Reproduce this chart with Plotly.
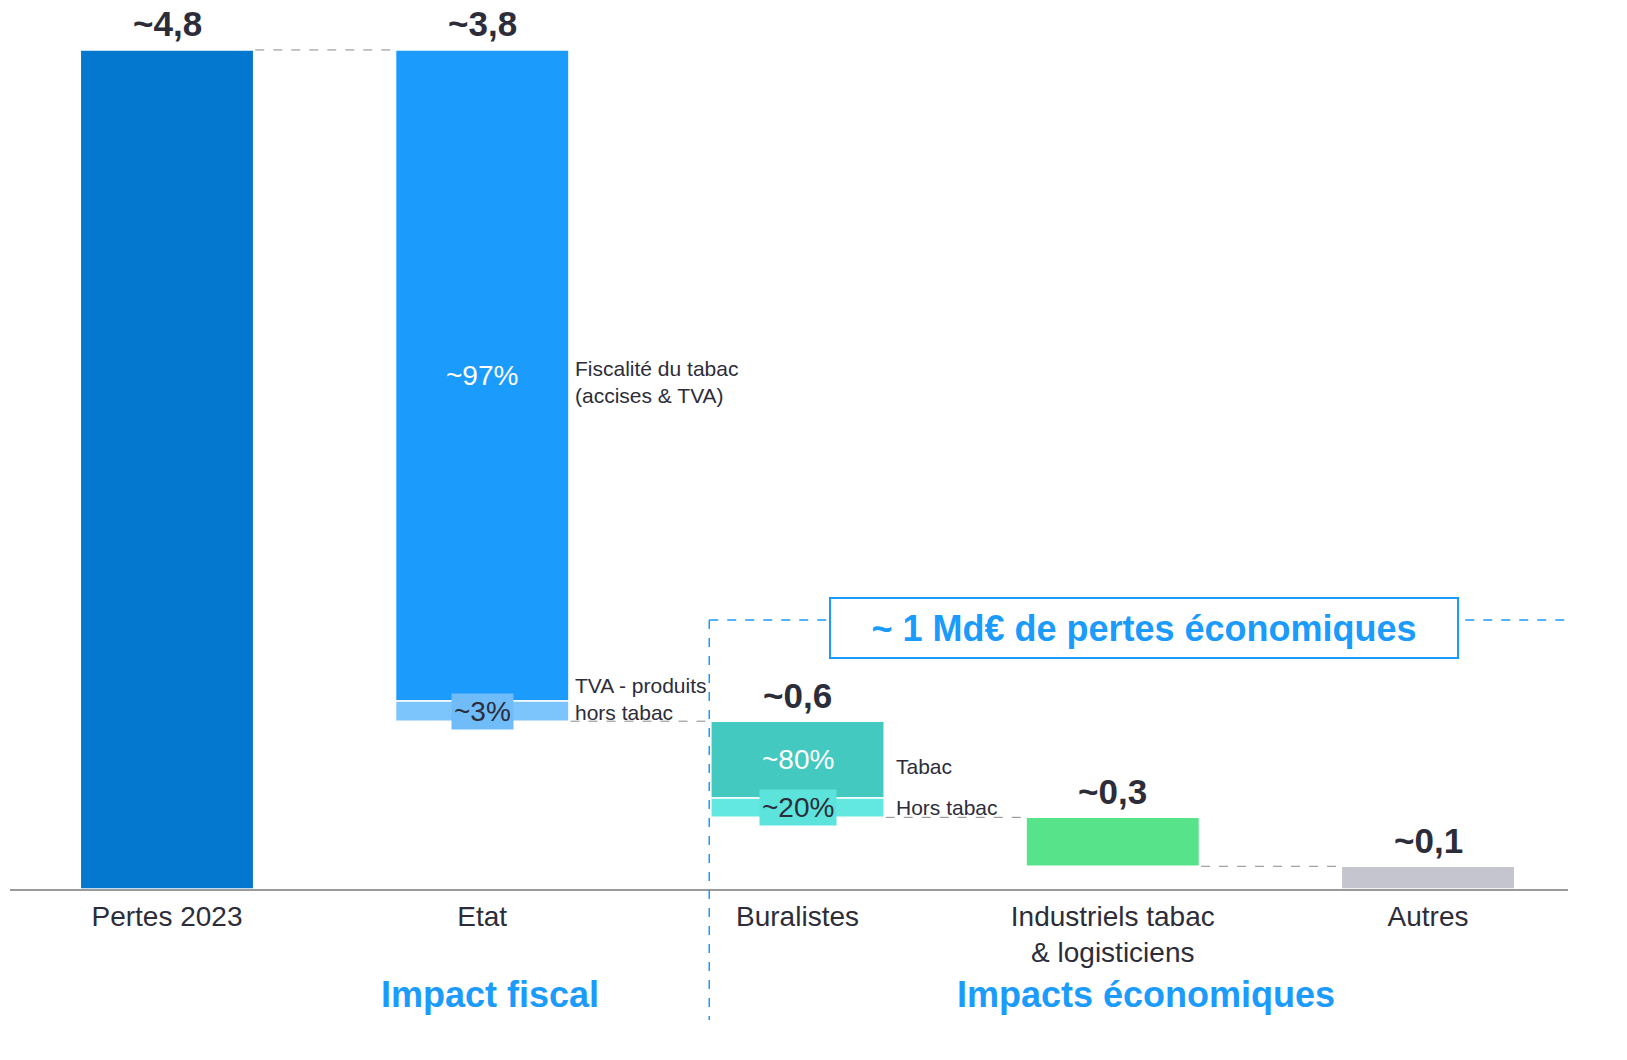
import plotly.graph_objects as go

# ---------------- data ----------------
categories = ["Pertes 2023", "Etat", "Buralistes", "Industriels tabac<br>& logisticiens", "Autres"]
value_labels = ["~4,8", "~3,8", "~0,6", "~0,3", "~0,1"]
bar_values = [4.8, 3.84, 0.55, 0.28, 0.13]
etat_split_pct = [97, 3]
buralistes_split_pct = [80, 20]
etat_split_labels = ["~97%", "~3%"]
buralistes_split_labels = ["~80%", "~20%"]
etat_side_labels = ["Fiscalité du tabac<br>(accises & TVA)", "TVA - produits<br>hors tabac"]
buralistes_side_labels = ["Tabac", "Hors tabac"]
section_labels = ["Impact fiscal", "Impacts économiques"]
callout_text = "~ 1 Md€ de pertes économiques"

# ---------------- styles ----------------
FONT = "Liberation Sans, Arial, sans-serif"
C_TOTAL = "#0477CE"
C_ETAT = "#1B9BFB"
C_ETAT_LIGHT = "#7CC4FC"
C_ETAT_LABEL_BG = "#6FBCF8"
C_BUR = "#43C9C0"
C_BUR_LIGHT = "#62E8E0"
C_BUR_LABEL_BG = "#5CE3DB"
C_IND = "#57E389"
C_AUT = "#C4C5CE"
C_TEXT = "#2D2D3A"
C_BLUE = "#1B9BFB"
BAR_W = 0.55
XMIN, XMAX = -0.498, 4.444
PLOT_H = 881
YMAX = 5.04

# waterfall geometry: first bar is the total, others step down from it
tops, bases = [bar_values[0]], [0.0]
running = bar_values[0]
for v in bar_values[1:]:
    top = running
    base = max(running - v, 0.0)
    tops.append(top)
    bases.append(base)
    running = base

fig = go.Figure()

def add_seg(cat, base, h, color):
    fig.add_trace(go.Bar(
        x=[cat], y=[h], base=[base], width=BAR_W,
        marker=dict(color=color, line=dict(color="white", width=1.5)),
        showlegend=False, hoverinfo="skip",
    ))

add_seg(categories[0], bases[0], bar_values[0], C_TOTAL)
etat_low = bar_values[1] * etat_split_pct[1] / 100
etat_up = bar_values[1] - etat_low
add_seg(categories[1], bases[1] + etat_low, etat_up, C_ETAT)
add_seg(categories[1], bases[1], etat_low, C_ETAT_LIGHT)
bur_low = bar_values[2] * buralistes_split_pct[1] / 100
bur_up = bar_values[2] - bur_low
add_seg(categories[2], bases[2] + bur_low, bur_up, C_BUR)
add_seg(categories[2], bases[2], bur_low, C_BUR_LIGHT)
add_seg(categories[3], bases[3], bar_values[3], C_IND)
add_seg(categories[4], bases[4], bar_values[4], C_AUT)

ann = []
shapes = []

for i, lab in enumerate(value_labels):
    ann.append(dict(x=categories[i], y=tops[i], text=f"<b>{lab}</b>", showarrow=False,
                    yanchor="middle", yshift=26, font=dict(size=35, color=C_TEXT, family=FONT)))

ann.append(dict(x=categories[1], y=bases[1] + etat_low + etat_up / 2, text=etat_split_labels[0],
                showarrow=False, font=dict(size=28, color="white", family=FONT)))
ann.append(dict(x=categories[1], y=bases[1] + etat_low / 2, text=etat_split_labels[1],
                showarrow=False, font=dict(size=28, color=C_TEXT, family=FONT),
                bgcolor=C_ETAT_LABEL_BG, borderpad=2))
ann.append(dict(x=categories[2], y=bases[2] + bur_low + bur_up / 2, text=buralistes_split_labels[0],
                showarrow=False, font=dict(size=28, color="white", family=FONT)))
ann.append(dict(x=categories[2], y=bases[2] + bur_low / 2, text=buralistes_split_labels[1],
                showarrow=False, font=dict(size=28, color=C_TEXT, family=FONT),
                bgcolor=C_BUR_LABEL_BG, borderpad=2))

side_font = dict(size=21, color=C_TEXT, family=FONT)
ann.append(dict(x=1 + BAR_W / 2, y=bases[1] + etat_low + etat_up / 2, text=etat_side_labels[0],
                showarrow=False, xanchor="left", align="left", xshift=4, yshift=-6, font=side_font))
ann.append(dict(x=1 + BAR_W / 2, y=bases[1], text=etat_side_labels[1],
                showarrow=False, xanchor="left", align="left", yanchor="bottom", xshift=4, yshift=-5,
                font=side_font))
ann.append(dict(x=2 + BAR_W / 2, y=bases[2] + bur_low + bur_up / 2, text=buralistes_side_labels[0],
                showarrow=False, xanchor="left", align="left", xshift=10, yshift=-7, font=side_font))
ann.append(dict(x=2 + BAR_W / 2, y=bases[2] + bur_low / 2, text=buralistes_side_labels[1],
                showarrow=False, xanchor="left", align="left", xshift=10, font=side_font))

for i in range(len(categories) - 1):
    lvl = tops[i + 1]
    shapes.append(dict(type="line", xref="x", yref="y", x0=i + BAR_W / 2 + 0.005, x1=i + 1 - BAR_W / 2 - 0.005,
                       y0=lvl, y1=lvl, line=dict(color="#8A8A8A", width=1, dash="dash")))

def xp(x):
    return (x - XMIN) / (XMAX - XMIN)

def yp_px_below(px):
    return -px / PLOT_H

sep_x = xp(2 - BAR_W / 2 - 0.005)
sep_y = 1.539 / YMAX
shapes.append(dict(type="line", xref="paper", yref="paper", x0=sep_x, x1=sep_x, y0=sep_y, y1=yp_px_below(131),
                   line=dict(color=C_BLUE, width=1.5, dash="dash"), layer="above"))
shapes.append(dict(type="line", xref="paper", yref="paper", x0=sep_x, x1=1.0, y0=sep_y, y1=sep_y,
                   line=dict(color=C_BLUE, width=1.5, dash="dash"), layer="below"))

ann.append(dict(x=3.099, y=1.493, xref="x", yref="y", text=f"<b>{callout_text}</b>", showarrow=False,
                font=dict(size=36, color=C_BLUE, family=FONT), bgcolor="white",
                bordercolor=C_BLUE, borderwidth=2, borderpad=3, width=620, height=52))

ann.append(dict(x=1.025, y=yp_px_below(105), xref="x", yref="paper", text=f"<b>{section_labels[0]}</b>",
                showarrow=False, yanchor="middle", font=dict(size=36, color=C_BLUE, family=FONT)))
ann.append(dict(x=3.105, y=yp_px_below(105), xref="x", yref="paper", text=f"<b>{section_labels[1]}</b>",
                showarrow=False, yanchor="middle", font=dict(size=36, color=C_BLUE, family=FONT)))

fig.update_layout(
    width=1611, height=1044,
    margin=dict(l=2, r=51, t=0, b=163),
    paper_bgcolor="white", plot_bgcolor="white",
    barmode="overlay",
    font=dict(family=FONT, color=C_TEXT),
    annotations=ann, shapes=shapes,
    xaxis=dict(type="category", categoryorder="array", categoryarray=categories,
               range=[XMIN, XMAX], showgrid=False, zeroline=False,
               showline=True, linecolor="#9A9A9A", linewidth=2,
               ticks="outside", ticklen=1, tickcolor="rgba(0,0,0,0)",
               tickfont=dict(size=28, color=C_TEXT, family=FONT)),
    yaxis=dict(range=[0, YMAX], visible=False, showgrid=False, zeroline=False),
)

fig.write_html("out.html")
